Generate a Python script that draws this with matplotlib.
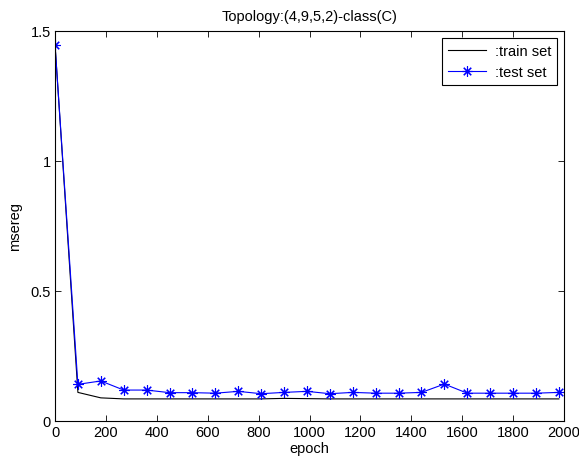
import numpy as np
import matplotlib
matplotlib.use('Agg')
import matplotlib.pyplot as plt

plt.rcParams['font.family'] = ['Liberation Sans', 'DejaVu Sans']

# 数据
epochs = [0, 90, 180, 270, 360, 450, 540, 630, 720, 810, 900, 990, 1080,
          1170, 1260, 1350, 1440, 1530, 1620, 1710, 1800, 1890, 1980]
train_mse = [1.45, 0.110, 0.089, 0.085, 0.085, 0.085, 0.085, 0.085, 0.085,
             0.085, 0.087, 0.086, 0.085, 0.085, 0.085, 0.085, 0.085, 0.085,
             0.085, 0.085, 0.085, 0.085, 0.085]
test_mse = [1.448, 0.141, 0.154, 0.119, 0.119, 0.109, 0.109, 0.107, 0.114,
            0.105, 0.110, 0.114, 0.105, 0.110, 0.107, 0.107, 0.110, 0.142,
            0.107, 0.107, 0.107, 0.107, 0.110]
x_ticks = list(range(0, 2001, 200))
y_ticks = [0, 0.5, 1, 1.5]

fs = 10.5

fig = plt.figure(figsize=(5.79, 4.64), dpi=100)
ax = fig.add_axes([55 / 579, 42 / 464, 509 / 579, 390 / 464])

ax.plot(epochs, train_mse, color='black', lw=0.8, label=':train set')
# MATLAB 的 '*' 标记：用 8 条辐射线的星号
ax.plot(epochs, test_mse, color='#0000ff', lw=0.8, marker=(8, 2, 0),
        markersize=7.5, markeredgewidth=0.8, label=':test set')

ax.set_xlim(0, 2000)
ax.set_ylim(0, 1.5)
ax.set_xticks(x_ticks)
ax.set_yticks(y_ticks)
ax.set_yticklabels(['0', '0.5', '1', '1.5'])
ax.tick_params(direction='in', top=True, right=True, labelsize=fs,
               length=4, width=0.6, pad=3)
for sp in ax.spines.values():
    sp.set_linewidth(0.8)

ax.set_title('Topology:(4,9,5,2)-class(C)', fontsize=fs, pad=8)
ax.set_xlabel('epoch', fontsize=fs, labelpad=1)
ax.set_ylabel('msereg', fontsize=fs, labelpad=6)

leg = ax.legend(loc='upper right', bbox_to_anchor=(557 / 579, (464 - 39.3) / 464),
                bbox_transform=fig.transFigure, fontsize=fs, fancybox=False,
                framealpha=1, edgecolor='black', borderaxespad=0,
                handlelength=2.6, handletextpad=0.6, borderpad=0.4,
                labelspacing=0.45)
leg.get_frame().set_linewidth(0.8)

fig.savefig('out.png', dpi=100)
